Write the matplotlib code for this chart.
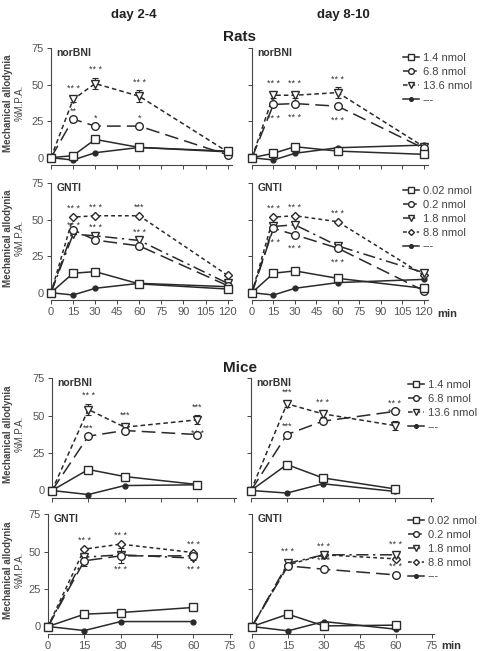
import matplotlib
matplotlib.use('Agg')
import matplotlib.pyplot as plt

plt.rcParams['font.family'] = ['Liberation Sans', 'DejaVu Sans']

# ---------------- data ----------------
times_rats = [0, 15, 30, 60, 120]
times_mice = [0, 15, 30, 60]
rats_xticks = [0, 15, 30, 45, 60, 75, 90, 105, 120]
mice_xticks = [0, 15, 30, 45, 60, 75]
y_ticks = [0, 25, 50, 75]

norbni_labels = ['1.4 nmol', '6.8 nmol', '13.6 nmol', '---']
gnti_labels = ['0.02 nmol', '0.2 nmol', '1.8 nmol', '8.8 nmol', '---']

# Rats, norBNI, day 2-4
rn24_sq = [0, 1.4, 12.5, 7.0, 4.5]
rn24_ci = [0, 26.4, 21.6, 21.6, 2.0]
rn24_tr = [0, 39.8, 50.7, 42.0, 4.0]
rn24_ct = [0, -1.6, 3.4, 7.0, 4.0]
rn24_tr_err = [0, 1.5, 4.0, 4.0, 0]
# Rats, norBNI, day 8-10
rn810_sq = [0, 3.0, 7.5, 4.5, 2.3]
rn810_ci = [0, 36.4, 37.0, 35.2, 6.4]
rn810_tr = [0, 42.7, 42.7, 44.5, 7.5]
rn810_ct = [0, -1.6, 3.0, 6.8, 8.6]
rn810_tr_err = [0, 2.0, 2.0, 3.5, 0]
# Rats, GNTI, day 2-4
rg24_sq = [0, 13.3, 14.4, 6.0, 2.5]
rg24_ci = [0, 43.0, 36.0, 32.0, 4.8]
rg24_tr = [0, 40.0, 38.9, 35.7, 6.4]
rg24_di = [0, 51.7, 52.6, 52.6, 11.9]
rg24_ct = [0, -1.6, 3.0, 6.4, 4.1]
# Rats, GNTI, day 8-10
rg810_sq = [0, 13.3, 14.9, 9.8, 3.0]
rg810_ci = [0, 44.0, 39.6, 30.4, 1.4]
rg810_tr = [0, 45.3, 46.4, 32.0, 13.7]
rg810_di = [0, 51.7, 52.6, 48.5, 12.1]
rg810_ct = [0, -1.6, 3.0, 6.9, 9.1]
# Mice, norBNI, day 2-4
mn24_sq = [0, 14.0, 9.3, 4.0]
mn24_ci = [0, 36.2, 40.0, 37.3]
mn24_tr = [0, 54.0, 42.2, 47.1]
mn24_ct = [0, -2.7, 3.3, 3.8]
mn24_tr_err = [0, 3.5, 2.5, 3.0]
# Mice, norBNI, day 8-10
mn810_sq = [0, 17.3, 8.4, 1.1]
mn810_ci = [0, 37.3, 46.2, 52.7]
mn810_tr = [0, 57.8, 51.1, 43.3]
mn810_ct = [0, -1.7, 4.5, -0.6]
mn810_tr_err = [0, 2.0, 2.0, 3.0]
# Mice, GNTI, day 2-4
mg24_sq = [0, 8.2, 9.3, 12.7]
mg24_ci = [0, 43.8, 47.1, 47.1]
mg24_tr = [0, 46.2, 47.8, 45.6]
mg24_di = [0, 51.6, 54.9, 49.3]
mg24_ct = [0, -2.7, 3.3, 3.3]
mg24_ci_err = [0, 3.5, 5.0, 2.5]
# Mice, GNTI, day 8-10
mg810_sq = [0, 8.2, 0.4, 0.9]
mg810_ci = [0, 40.4, 38.2, 34.4]
mg810_tr = [0, 42.2, 47.8, 47.8]
mg810_di = [0, 41.1, 47.8, 45.1]
mg810_ct = [0, -2.9, 3.3, -1.8]
mg810_tr_err = [0, 2.0, 2.0, 1.5]

# significance annotations: (series index, time index, side, text)
rn24_sig = [(2, 1, 'a', '** *'), (2, 2, 'a', '** *'), (2, 3, 'a', '** *'),
            (1, 1, 'a', '**'), (1, 2, 'a', '*'), (1, 3, 'a', '*')]
rn810_sig = [(2, 1, 'a', '** *'), (2, 2, 'a', '** *'), (2, 3, 'a', '** *'),
             (1, 1, 'b', '** *'), (1, 2, 'b', '** *'), (1, 3, 'b', '** *')]
rg24_sig = [(3, 1, 'a', '** *'), (3, 2, 'a', '** *'), (3, 3, 'a', '***'),
            (2, 1, 'a', '** *'), (2, 2, 'a', '** *'), (2, 3, 'a', '** *')]
rg810_sig = [(3, 1, 'a', '** *'), (3, 2, 'a', '** *'), (3, 3, 'a', '** *'),
             (1, 1, 'b', '** *'), (1, 2, 'b', '** *'), (1, 3, 'b', '** *')]
mn24_sig = [(2, 1, 'a', '** *'), (2, 2, 'a', '***'), (2, 3, 'a', '***'),
            (1, 1, 'a', '***'), (2, 3, 'b', '** *')]
mn810_sig = [(2, 1, 'a', '***'), (2, 2, 'a', '** *'), (1, 3, 'a', '** *'),
             (1, 1, 'a', '***'), (2, 3, 'a', '** *')]
mg24_sig = [(3, 1, 'a', '** *'), (3, 2, 'a', '** *'), (3, 3, 'a', '** *'),
            (1, 2, 'b', '** *'), (1, 3, 'b', '** *')]
mg810_sig = [(2, 1, 'a', '** *'), (3, 2, 'a', '** *'), (2, 3, 'a', '** *'),
             (1, 2, 'a', '** *'), (1, 3, 'a', '** *')]

# ---------------- styles ----------------
LC = '#2a2a2a'
TC = '#555555'
sty_sq = dict(ls='-', marker='s', ms=5.5, mfc='white')
sty_ci = dict(ls=(0, (9, 4)), marker='o', ms=5.5, mfc='white')
sty_tr_n = dict(ls=(0, (3, 2)), marker='v', ms=6, mfc='white')
sty_tr_g = dict(ls=(0, (8, 3, 1.5, 3)), marker='v', ms=6, mfc='white')
sty_di = dict(ls=(0, (2.5, 2)), marker='D', ms=4, mfc='white')
sty_ct = dict(ls='-', marker='o', ms=3.5, mfc=LC)

W, H = 481, 651
fig = plt.figure(figsize=(W / 100, H / 100), dpi=100)


def px_axes(left, right, top, bottom):
    return fig.add_axes([left / W, 1 - bottom / H, (right - left) / W, (bottom - top) / H])


def panel(ax, times, series, styles, errs, sigs, xticks, xlim, name,
          show_xlabels, show_ylabels):
    lines = []
    n = len(series)
    for i, (vals, st) in enumerate(zip(series, styles)):
        z = 3 + (n - i) * 0.1
        ln, = ax.plot(times, vals, color=LC, lw=1.1, mew=1.0, mec=LC,
                      clip_on=False, zorder=z, **st)
        lines.append(ln)
        if i in errs:
            ax.errorbar(times, vals, yerr=errs[i], fmt='none', ecolor=LC,
                        elinewidth=0.8, capsize=2.5, capthick=0.8, zorder=2)
    for si, ti, side, txt in sigs:
        off = 6 if side == 'a' else -10
        e = errs.get(si, [0] * len(times))[ti]
        y = series[si][ti] + (e if side == 'a' else 0)
        ax.annotate(txt, (times[ti], y), xytext=(0, off), textcoords='offset points',
                    ha='center', va='center', fontsize=6.5, color='#333333')
    ax.set_xlim(*xlim)
    ax.set_ylim(-5, 75)
    ax.set_xticks(xticks)
    ax.set_yticks(y_ticks)
    for s in ['top', 'right']:
        ax.spines[s].set_visible(False)
    for s in ['left', 'bottom']:
        ax.spines[s].set_color('#444444')
        ax.spines[s].set_linewidth(0.8)
    ax.spines['left'].set_bounds(0, 75)
    ax.tick_params(direction='out', length=3, width=0.7, color='#444444',
                   labelsize=8, labelcolor=TC, pad=2)
    if not show_xlabels:
        ax.set_xticklabels([])
    if not show_ylabels:
        ax.set_yticklabels([])
    ax.text(0.03, 1.0, name, transform=ax.transAxes, fontsize=7.5,
            fontweight='bold', color='#333333', va='top', ha='left')
    return lines


rats_xlim = (0, 123)
mice_xlim = (0, 76)

# Rats norBNI
a1 = px_axes(51, 232, 48, 165)
panel(a1, times_rats, [rn24_sq, rn24_ci, rn24_tr, rn24_ct],
      [sty_sq, sty_ci, sty_tr_n, sty_ct], {2: rn24_tr_err}, rn24_sig,
      rats_xticks, rats_xlim, 'norBNI', False, True)
a2 = px_axes(252, 428, 48, 165)
l2 = panel(a2, times_rats, [rn810_sq, rn810_ci, rn810_tr, rn810_ct],
           [sty_sq, sty_ci, sty_tr_n, sty_ct], {2: rn810_tr_err}, rn810_sig,
           rats_xticks, rats_xlim, 'norBNI', False, False)
# Rats GNTI
a3 = px_axes(51, 232, 183, 300)
panel(a3, times_rats, [rg24_sq, rg24_ci, rg24_tr, rg24_di, rg24_ct],
      [sty_sq, sty_ci, sty_tr_g, sty_di, sty_ct], {}, rg24_sig,
      rats_xticks, rats_xlim, 'GNTI', True, True)
a4 = px_axes(252, 428, 183, 300)
l4 = panel(a4, times_rats, [rg810_sq, rg810_ci, rg810_tr, rg810_di, rg810_ct],
           [sty_sq, sty_ci, sty_tr_g, sty_di, sty_ct], {}, rg810_sig,
           rats_xticks, rats_xlim, 'GNTI', True, False)
# Mice norBNI
a5 = px_axes(52, 236, 378, 498)
panel(a5, times_mice, [mn24_sq, mn24_ci, mn24_tr, mn24_ct],
      [sty_sq, sty_ci, sty_tr_n, sty_ct], {2: mn24_tr_err}, mn24_sig,
      mice_xticks, mice_xlim, 'norBNI', False, True)
a6 = px_axes(251, 433, 378, 498)
l6 = panel(a6, times_mice, [mn810_sq, mn810_ci, mn810_tr, mn810_ct],
           [sty_sq, sty_ci, sty_tr_n, sty_ct], {2: mn810_tr_err}, mn810_sig,
           mice_xticks, mice_xlim, 'norBNI', False, False)
# Mice GNTI
a7 = px_axes(48, 232, 514, 634)
panel(a7, times_mice, [mg24_sq, mg24_ci, mg24_tr, mg24_di, mg24_ct],
      [sty_sq, sty_ci, sty_tr_g, sty_di, sty_ct], {1: mg24_ci_err}, mg24_sig,
      mice_xticks, mice_xlim, 'GNTI', True, True)
a8 = px_axes(252, 434, 514, 634)
l8 = panel(a8, times_mice, [mg810_sq, mg810_ci, mg810_tr, mg810_di, mg810_ct],
           [sty_sq, sty_ci, sty_tr_g, sty_di, sty_ct], {2: mg810_tr_err}, mg810_sig,
           mice_xticks, mice_xlim, 'GNTI', True, False)


def legend(lines, labels, x, y):
    fig.legend(lines, labels, loc='upper left', bbox_to_anchor=(x / W, 1 - y / H),
               frameon=False, fontsize=8, handlelength=1.4, handletextpad=0.4,
               labelspacing=0.35, labelcolor='#444444', borderaxespad=0, borderpad=0,
               markerscale=0.75)


legend(l2, norbni_labels, 403, 53)
legend(l4, gnti_labels, 403, 186)
legend(l6, norbni_labels, 408, 380)
legend(l8, gnti_labels, 408, 516)

# axis "min" labels
for ax, dx, dy in [(a4, 7, -10), (a8, 5, -8.5)]:
    ax.annotate('min', (1, 0), xycoords='axes fraction', xytext=(dx, dy),
                textcoords='offset points', ha='left', va='center',
                fontsize=8, fontweight='bold', color='#333333')

# y labels
for ax in [a1, a3, a5, a7]:
    pos = ax.get_position()
    yc = pos.y0 + pos.height * (0.5 + 2.5 / 80)
    fig.text(8 / W, yc, 'Mechanical allodynia', rotation=90, ha='center', va='center',
             fontsize=7, fontweight='bold', color='#444444')
    fig.text(20 / W, yc, '%M.P.A.', rotation=90, ha='center', va='center',
             fontsize=7, color='#444444')

# titles
fig.text(134 / W, 1 - 15 / H, 'day 2-4', ha='center', va='center', fontsize=9.5,
         fontweight='bold', color='#222222')
fig.text(343 / W, 1 - 15 / H, 'day 8-10', ha='center', va='center', fontsize=9.5,
         fontweight='bold', color='#222222')
fig.text(240 / W, 1 - 37 / H, 'Rats', ha='center', va='center', fontsize=11,
         fontweight='bold', color='#222222')
fig.text(240 / W, 1 - 368 / H, 'Mice', ha='center', va='center', fontsize=11,
         fontweight='bold', color='#222222')

fig.savefig('out.png', dpi=100)
